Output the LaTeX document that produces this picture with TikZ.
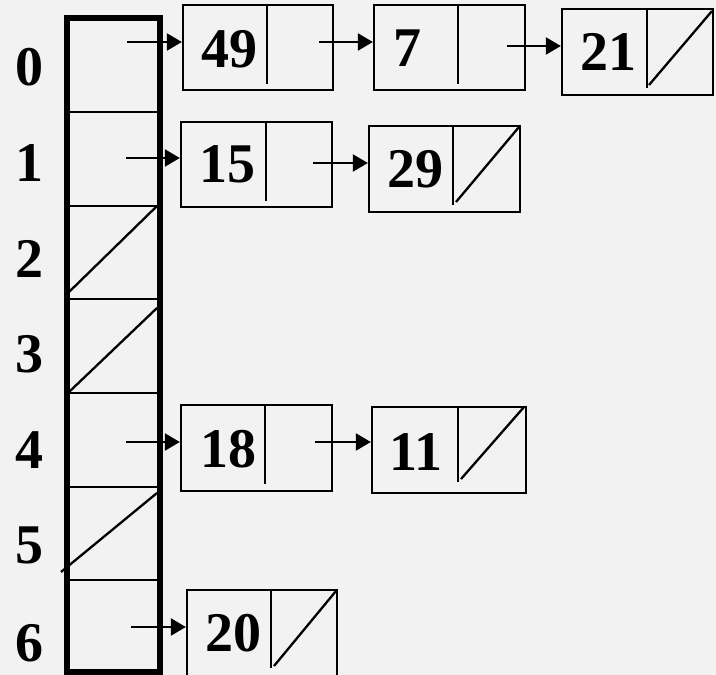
\documentclass[tikz,border=0pt]{standalone}
\usepackage{fontspec}
\setmainfont{Liberation Serif}
\usetikzlibrary{arrows.meta}
\definecolor{bgc}{RGB}{242,242,242}
\begin{document}
\begin{tikzpicture}[x=1pt,y=-1pt,
  txt/.style={font=\fontsize{56}{56}\selectfont\bfseries, inner sep=0pt},
  box/.style={draw=black, line width=2.3pt, inner sep=0pt},
  part/.style={line width=2.3pt},
  sep/.style={line width=2.8pt},
  ptr/.style={line width=2.3pt, -{Triangle[length=15pt,width=17pt]}}]
\fill[bgc] (0,0) rectangle (716,675);
\useasboundingbox (0,0) rectangle (716,675);
% array
\draw[line width=5.5pt] (67,18) rectangle (160,672);
\foreach \y in {112,206,299,393,487,580} \draw[sep] (69,\y) -- (158,\y);
\draw[part] (69,292) -- (157,206);
\draw[part] (69,392) -- (157,308);
\draw[part] (61,572) -- (157,493);
% labels
\node[txt] (l0) at (30,67) {0};
\node[txt] (l1) at (30,163) {1};
\node[txt] (l2) at (30,259) {2};
\node[txt] (l3) at (30,354) {3};
\node[txt] (l4) at (30,450) {4};
\node[txt] (l5) at (30,545) {5};
\node[txt] (l6) at (30,643) {6};
% boxes
\node[box, minimum width=150pt, minimum height=85pt] (b49) at (258,47.5) {};
\node[box, minimum width=151pt, minimum height=85pt] (b7) at (449.5,47.5) {};
\node[box, minimum width=151pt, minimum height=86pt] (b21) at (637.5,52) {};
\node[box, minimum width=151pt, minimum height=85pt] (b15) at (256.5,164.5) {};
\node[box, minimum width=151pt, minimum height=86pt] (b29) at (444.5,169) {};
\node[box, minimum width=151pt, minimum height=86pt] (b18) at (256.5,448) {};
\node[box, minimum width=154pt, minimum height=86pt] (b11) at (449,450) {};
\node[box, minimum width=150pt, minimum height=92pt] (b20) at (262,636) {};
% dividers
\draw[part] (267,5) -- (267,84);
\draw[part] (458,5) -- (458,84);
\draw[part] (647,9) -- (647,88);
\draw[part] (266,122) -- (266,201);
\draw[part] (453,126) -- (453,205);
\draw[part] (265,405) -- (265,484);
\draw[part] (458,407) -- (458,482);
\draw[part] (271,590) -- (271,668);
% null diagonals
\draw[part] (649,85) -- (712,11);
\draw[part] (456,202) -- (519,127);
\draw[part] (461,479) -- (524,407);
\draw[part] (274,666) -- (336,591);
% values
\node[txt] (t49) at (229,49) {49};
\node[txt] (t7) at (407,48) {7};
\node[txt] (t21) at (608,52) {21};
\node[txt] (t15) at (227,164) {15};
\node[txt] (t29) at (415,169) {29};
\node[txt] (t18) at (228,449) {18};
\node[txt] (t11) at (416,452) {11};
\node[txt] (t20) at (233,633) {20};
% pointer origins
\coordinate (a0) at (127,42);
\coordinate (a1) at (126,158);
\coordinate (a4) at (126,442);
\coordinate (a6) at (131,627);
\coordinate (p49) at (319,42);
\coordinate (p7) at (507,46);
\coordinate (p15) at (313,163);
\coordinate (p18) at (315,442);
% arrows
\draw[ptr] (a0) -- (a0 -| b49.west);
\draw[ptr] (a1) -- (a1 -| b15.west);
\draw[ptr] (a4) -- (a4 -| b18.west);
\draw[ptr] (a6) -- (a6 -| b20.west);
\draw[ptr] (p49) -- (p49 -| b7.west);
\draw[ptr] (p7) -- (p7 -| b21.west);
\draw[ptr] (p15) -- (p15 -| b29.west);
\draw[ptr] (p18) -- (p18 -| b11.west);
\end{tikzpicture}
\end{document}
